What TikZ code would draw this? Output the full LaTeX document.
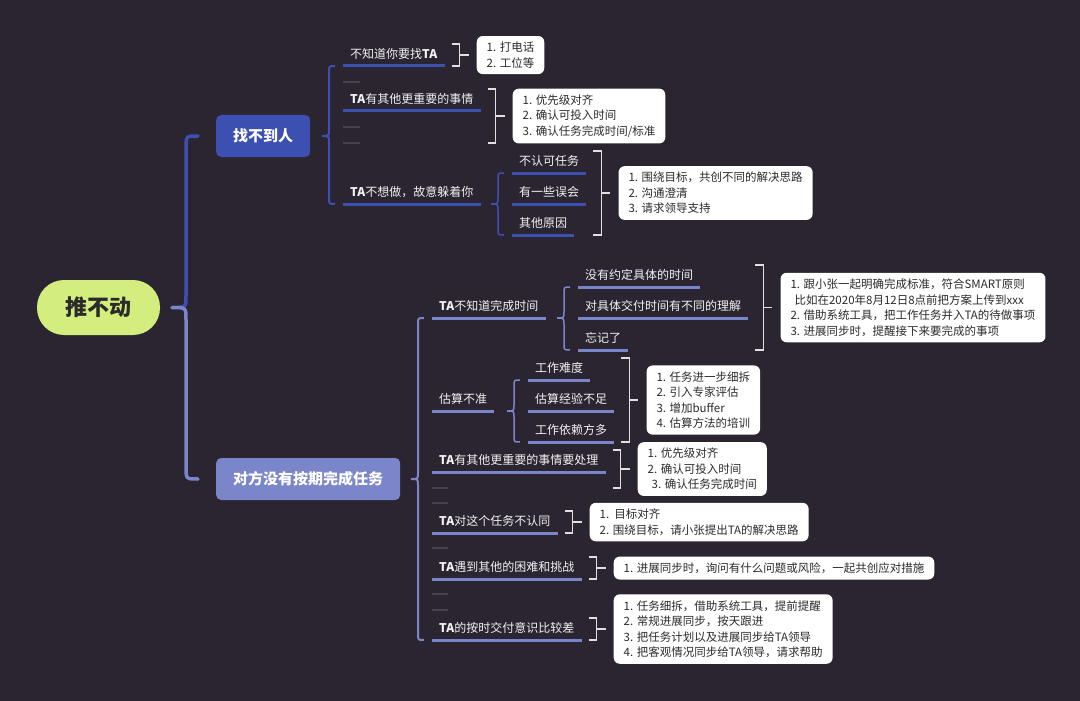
\documentclass[tikz,border=0pt]{standalone}
\usepackage{fontspec}
\setmainfont{Noto Sans CJK SC}
\usepackage{xcolor}
\usepackage{tikz}
\usetikzlibrary{calc,positioning}
\definecolor{nightbg}{HTML}{2A2530}
\definecolor{rootlime}{HTML}{D3EE7E}
\definecolor{deepblue}{HTML}{3E4FB2}
\definecolor{softlav}{HTML}{7B85C9}
\definecolor{ghostgray}{HTML}{46414D}
\definecolor{inkgray}{HTML}{2B2B2B}
\newcommand\TA{\textbf{TA}}
\newcommand\bup[6]{\draw[#1] let \p1=(#2),\p2=(#3),\n1={\x2-#4} in
  (\n1+#6,\y2) .. controls (\n1,\y2) .. (\n1,\y2-#6) -- (\n1,\y1+#6) .. controls (\n1,\y1) .. (\n1-#5,\y1);}
\newcommand\bdn[6]{\draw[#1] let \p1=(#2),\p2=(#3),\n1={\x2-#4} in
  (\n1+#6,\y2) .. controls (\n1,\y2) .. (\n1,\y2+#6) -- (\n1,\y1-#6) .. controls (\n1,\y1) .. (\n1-#5,\y1);}
\newcommand\bkt[5]{\draw[bk] let \p1=(#1),\p2=(#2),\p3=(#3.east),\n1={\x3+15pt},\n2={(\y1+\y2)/2} in
    (\n1-8pt,\y1) -- (\n1,\y1) -- (\n1,\y2) -- (\n1-8pt,\y2) (\n1,\n2) coordinate (#4k);
  \node[box,right=17pt of #4k] (#4) {#5};
  \draw[bk,shorten >=8pt] (#4k) -- (#4);}

\begin{document}
\begin{tikzpicture}[
  x=1pt,y=-1pt,
  rootpill/.style={fill=rootlime,rounded corners=27pt,minimum width=123pt,minimum height=55pt,text=inkgray,font=\fontsize{22}{24}\selectfont\bfseries},
  topA/.style={fill=deepblue,rounded corners=5pt,minimum height=42pt,inner xsep=17pt,text=white,font=\fontsize{15}{17}\selectfont\bfseries},
  topB/.style={topA,fill=softlav},
  item/.style={anchor=south west,inner xsep=7pt,inner ysep=5pt,text height=9pt,text depth=2.5pt,text=white!95!black,font=\fontsize{12}{14}\selectfont},
  ulA/.style={draw=deepblue,line width=3pt},
  ulB/.style={draw=softlav,line width=3pt},
  rootA/.style={draw=deepblue,line width=3.5pt,line cap=round},
  rootB/.style={draw=softlav,line width=3.5pt,line cap=round},
  brA/.style={draw=deepblue,line width=2pt},
  brB/.style={draw=softlav,line width=2pt},
  subA/.style={draw=deepblue,line width=1.5pt},
  subB/.style={draw=softlav,line width=1.5pt},
  bk/.style={draw=white!88!black,line width=1.6pt},
  box/.style={fill=white,rounded corners=6pt,inner xsep=10pt,inner ysep=6pt,align=left,text=inkgray,font=\fontsize{11.5}{15.5}\selectfont},
  ghost/.style={draw=ghostgray,line width=2pt}
]
\useasboundingbox (0,0) rectangle (1080,701);
\fill[nightbg] (0,0) rectangle (1080,701);

\node[rootpill] (root) at (98.5,307.5) {推不动};
\node[topA,anchor=west] (find) at (216,136) {找不到人};
\node[topB,anchor=west] (late) at (216,479) {对方没有按期完成任务};

\node[item] (a1) at (343,66) {不知道你要找\TA};
\node[item] (a2) at (343,111) {\TA{}有其他更重要的事情};
\node[item] (a3) at (343,204) {\TA{}不想做，故意躲着你};
\node[item] (b1) at (512,173) {不认可任务};
\node[item] (b2) at (512,204) {有一些误会};
\node[item] (b3) at (512,235) {其他原因};

\node[item] (c0) at (432,318) {\TA{}不知道完成时间};
\node[item] (c1) at (578,287) {没有约定具体的时间};
\node[item] (c2) at (578,318) {对具体交付时间有不同的理解};
\node[item] (c3) at (578,350) {忘记了};
\node[item] (d0) at (432,411) {估算不准};
\node[item] (d1) at (528,380) {工作难度};
\node[item] (d2) at (528,411) {估算经验不足};
\node[item] (d3) at (528,442) {工作依赖方多};
\node[item] (e0) at (432,472) {\TA{}有其他更重要的事情要处理};
\node[item] (f0) at (432,533) {\TA{}对这个任务不认同};
\node[item] (g0) at (432,579) {\TA{}遇到其他的困难和挑战};
\node[item] (h0) at (432,640) {\TA{}的按时交付意识比较差};

\foreach \n in {a1,a2,a3,b1,b2,b3}
  \draw[ulA] (\n.south west) -- (\n.south east);
\foreach \n in {c0,c1,c2,c3,d0,d1,d2,d3,e0,f0,g0,h0}
  \draw[ulB] (\n.south west) -- (\n.south east);

\foreach \k/\y in {1/82,2/127,3/143} {
  \coordinate (ga\k) at (343,\y);
  \draw[ghost] (ga\k) -- ++(17,0);
}
\foreach \k/\y in {1/488,2/503,3/548,4/594,5/610} {
  \coordinate (gb\k) at (432,\y);
  \draw[ghost] (gb\k) -- ++(16,0);
}

\bup{rootA}{root.east}{find.west}{30pt}{14pt}{12pt}
\bdn{rootB}{root.east}{late.west}{30pt}{14pt}{12pt}
\bup{brA}{find.east}{a1.south west}{14pt}{7pt}{6pt}
\bdn{brA}{find.east}{a3.south west}{14pt}{7pt}{6pt}
\bup{brB}{late.east}{c0.south west}{14pt}{7pt}{6pt}
\bdn{brB}{late.east}{h0.south west}{14pt}{7pt}{6pt}
\bup{subA}{a3.south east}{b1.south west}{14pt}{7pt}{6pt}
\bdn{subA}{a3.south east}{b3.south west}{14pt}{7pt}{6pt}
\bup{subB}{c0.south east}{c1.south west}{14pt}{7pt}{6pt}
\bdn{subB}{c0.south east}{c3.south west}{14pt}{7pt}{6pt}
\bup{subB}{d0.south east}{d1.south west}{14pt}{7pt}{6pt}
\bdn{subB}{d0.south east}{d3.south west}{14pt}{7pt}{6pt}

\bkt{a1.north}{a1.south}{a1}{a1box}{1. 打电话\\2. 工位等}
\bkt{a2.north}{ga3}{a2}{a2box}{1. 优先级对齐\\2. 确认可投入时间\\3. 确认任务完成时间/标准}
\bkt{b1.north}{b3.south}{b1}{bbox}{1. 围绕目标，共创不同的解决思路\\2. 沟通澄清\\3. 请求领导支持}
\bkt{c1.north}{c3.south}{c2}{cbox}{1. 跟小张一起明确完成标准，符合SMART原则\\\hspace*{4pt}比如在2020年8月12日8点前把方案上传到xxx\\2. 借助系统工具，把工作任务并入TA的待做事项\\3. 进展同步时，提醒接下来要完成的事项}
\bkt{d1.north}{d3.south}{d3}{dbox}{1. 任务进一步细拆\\2. 引入专家评估\\3. 增加buffer\\4. 估算方法的培训}
\bkt{e0.north}{gb1}{e0}{ebox}{1. 优先级对齐\\2. 确认可投入时间\\\hspace*{4pt}3. 确认任务完成时间}
\bkt{f0.north}{f0.south}{f0}{fbox}{1.\ \ 目标对齐\\2. 围绕目标，请小张提出TA的解决思路}
\bkt{g0.north}{g0.south}{g0}{gbox}{1. 进展同步时，询问有什么问题或风险，一起共创应对措施}
\bkt{h0.north}{h0.south}{h0}{hbox}{1. 任务细拆，借助系统工具，提前提醒\\2. 常规进展同步，按天跟进\\3. 把任务计划以及进展同步给TA领导\\4. 把客观情况同步给TA领导，请求帮助}
\end{tikzpicture}
\end{document}
